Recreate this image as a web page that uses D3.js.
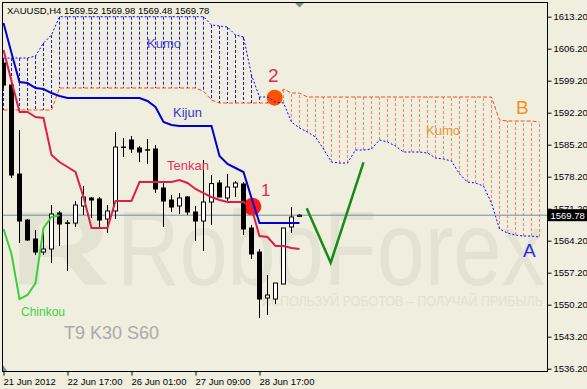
<!DOCTYPE html>
<html>
<head>
<meta charset="utf-8">
<script src="https://cdn.jsdelivr.net/npm/d3@7"></script>
<style>
html, body { margin: 0; padding: 0; background: #f0efdf; }
svg { display: block; font-family: "Liberation Sans", Arial, sans-serif; }
</style>
</head>
<body>
<svg id="chart" width="587" height="389"></svg>
<script>
// XAUUSD H4, bars from 21 Jun 2012 09:00 to 29 Jun 2012 13:00
let opens  = [1603.07, 1598.25, 1578.79, 1568.72, 1564.57, 1561.72, 1562.38, 1570.26, 1568.10, 1568.06,
              1571.79, 1573.54, 1573.32, 1568.94, 1570.70, 1584.60, 1586.23, 1584.48, 1584.04, 1584.26,
              1575.72, 1573.10, 1571.79, 1573.76, 1570.47, 1568.51, 1572.66, 1576.82, 1573.54, 1575.94,
              1576.60, 1566.98, 1561.72, 1551.66, 1551.44, 1554.72, 1567.20, 1569.52];
let highs  = [1603.90, 1598.90, 1588.41, 1568.94, 1566.54, 1566.10, 1572.01, 1570.70, 1568.70, 1572.88,
              1576.16, 1573.76, 1573.76, 1572.01, 1587.98, 1586.66, 1587.10, 1584.90, 1586.45, 1585.13,
              1576.82, 1574.19, 1574.63, 1573.98, 1571.79, 1581.85, 1578.57, 1577.48, 1578.79, 1577.26,
              1577.04, 1567.63, 1562.38, 1556.69, 1554.94, 1566.98, 1571.57, 1569.98];
let lows   = [1597.60, 1577.90, 1563.69, 1564.13, 1561.07, 1561.07, 1559.32, 1563.04, 1557.57, 1567.20,
              1569.82, 1569.16, 1567.20, 1565.88, 1568.94, 1582.51, 1583.38, 1581.41, 1580.98, 1574.63,
              1567.20, 1570.47, 1570.04, 1569.82, 1564.13, 1561.94, 1567.63, 1573.76, 1572.44, 1573.76,
              1565.44, 1560.19, 1547.28, 1547.94, 1550.35, 1554.72, 1565.88, 1569.48];
let closes = [1598.25, 1578.57, 1568.51, 1564.35, 1561.72, 1562.38, 1570.04, 1567.85, 1568.00, 1572.01,
              1573.76, 1573.10, 1568.72, 1570.70, 1584.69, 1584.69, 1584.26, 1583.60, 1584.10, 1575.51,
              1572.88, 1571.57, 1573.54, 1570.47, 1568.51, 1572.66, 1576.69, 1573.76, 1575.94, 1576.82,
              1566.76, 1561.29, 1551.44, 1552.32, 1554.94, 1566.98, 1569.38, 1569.78];

let tenkan = [1605.91, 1599.13, 1592.35, 1592.35, 1591.25, 1591.04, 1582.94, 1581.41, 1580.32, 1579.23,
              1573.76, 1566.97, 1566.97, 1566.97, 1572.88, 1572.88, 1572.88, 1577.04, 1577.04, 1577.04,
              1577.04, 1577.04, 1577.48, 1576.82, 1575.51, 1574.63, 1573.76, 1573.10, 1572.66, 1572.66,
              1572.66, 1571.35, 1565.22, 1565.00, 1563.04, 1563.04, 1562.60, 1562.38];
let kijun  = [1611.82, 1605.26, 1598.91, 1598.69, 1597.60, 1597.38, 1596.50, 1595.85, 1595.41, 1595.41,
              1595.41, 1595.41, 1595.41, 1595.41, 1595.41, 1595.41, 1595.41, 1595.41, 1594.76, 1593.44,
              1590.16, 1589.51, 1589.29, 1589.29, 1589.29, 1589.29, 1589.29, 1582.73, 1580.98, 1580.10,
              1579.23, 1573.54, 1568.07, 1568.07, 1568.07, 1568.07, 1568.07, 1568.07];
let chinkou = [1566.76, 1561.29, 1551.44, 1552.32, 1554.94, 1566.98, 1569.38, 1569.78];

let senkouA = [1604.16, 1604.16, 1604.16, 1604.16, 1604.60, 1607.45, 1609.20, 1613.20, 1613.20, 1613.20,
               1613.20, 1613.20, 1613.20, 1613.20, 1613.20, 1613.20, 1613.20, 1613.20, 1613.20, 1613.20,
               1613.20, 1613.20, 1613.20, 1613.20, 1613.20, 1613.20, 1611.38, 1611.17, 1610.95, 1609.20,
               1608.76, 1600.44, 1595.63, 1595.63, 1594.54, 1594.32, 1590.16, 1588.85, 1587.98, 1586.88,
               1584.26, 1581.41, 1581.19, 1581.19, 1584.04, 1584.04, 1584.26, 1586.23, 1585.79, 1584.91,
               1583.60, 1583.60, 1583.60, 1583.38, 1582.29, 1582.07, 1581.63, 1578.79, 1577.04, 1576.82,
               1576.16, 1572.44, 1566.76, 1565.88, 1565.44, 1565.22, 1565.22, 1565.00];
let senkouB = [1592.79, 1592.79, 1592.79, 1592.79, 1592.79, 1592.79, 1592.79, 1597.60, 1597.60, 1597.60,
               1597.60, 1597.60, 1597.60, 1597.60, 1597.60, 1597.60, 1597.60, 1597.60, 1597.60, 1597.60,
               1597.60, 1597.60, 1597.60, 1597.60, 1597.60, 1596.90, 1594.98, 1594.32, 1594.32, 1594.32,
               1594.32, 1594.32, 1594.32, 1594.32, 1594.32, 1597.38, 1596.50, 1596.50, 1595.63, 1595.63,
               1595.63, 1595.63, 1595.63, 1595.63, 1595.63, 1595.63, 1595.63, 1595.63, 1595.63, 1595.63,
               1595.63, 1595.63, 1595.63, 1595.63, 1595.63, 1595.63, 1595.63, 1595.63, 1595.63, 1595.63,
               1595.63, 1595.63, 1590.60, 1590.38, 1590.38, 1590.38, 1590.38, 1590.16];

let lastPrice = 1569.78;
let yTicks = [1613.2, 1606.2, 1599.2, 1592.2, 1585.2, 1578.2, 1571.2, 1564.2, 1557.2, 1550.2, 1543.2, 1536.2];
let xTickIdx = [0, 8, 16, 24, 32];
let xTickLabels = ['21 Jun 2012', '22 Jun 17:00', '26 Jun 01:00', '27 Jun 09:00', '28 Jun 17:00'];

// hand drawn forecast (bar index, price) and marked points
let forecastIdx = [37.9, 40.9, 45.0];
let forecastPrice = [1571.28, 1559.38, 1581.35];
let markIdx = [31.1, 33.9];
let markPrice = [1571.63, 1595.48];

const W = 587, H = 389;
const pL = 2.5, pR = 547.5, pT = 2.5, pB = 371.5;

let x = d3.scaleLinear().domain([0, 68]).range([3.5, 547.5]);
let y = d3.scaleLinear().domain([1536.2, 1613.2]).range([368.7, 16.7]);

let svg = d3.select('#chart');
svg.append('rect').attr('width', W).attr('height', H).attr('fill', '#f0efdf');

svg.append('defs').append('clipPath').attr('id', 'clip')
  .append('rect').attr('x', pL).attr('y', pT)
  .attr('width', pR - pL).attr('height', pB - pT);

let g = svg.append('g').attr('clip-path', 'url(#clip)');

// watermark
g.append('text').attr('x', 10).attr('y', 285)
  .attr('font-size', 105).attr('font-weight', 'bold')
  .attr('textLength', 100).attr('lengthAdjust', 'spacingAndGlyphs')
  .attr('fill', '#e3e3d4').text('R');
g.append('text').attr('x', 117).attr('y', 285)
  .attr('font-size', 105)
  .attr('textLength', 428).attr('lengthAdjust', 'spacingAndGlyphs')
  .attr('fill', '#e3e3d4').text('RoboForex');
g.append('text').attr('x', 262).attr('y', 306)
  .attr('font-size', 14)
  .attr('textLength', 281).attr('lengthAdjust', 'spacingAndGlyphs')
  .attr('fill', '#e1e1d2').text('ИСПОЛЬЗУЙ РОБОТОВ – ПОЛУЧАЙ ПРИБЫЛЬ');

// kumo hatching
g.selectAll('.hatch').data(d3.range(senkouA.length)).enter().append('line')
  .attr('class', 'hatch')
  .attr('x1', i => x(i)).attr('x2', i => x(i))
  .attr('y1', i => y(senkouA[i])).attr('y2', i => y(senkouB[i]))
  .attr('stroke', i => senkouA[i] >= senkouB[i] ? '#1a1ad0' : '#f2865e')
  .attr('stroke-width', 1)
  .attr('stroke-dasharray', '3,2');

// marked points sit under the lines
let markColor = ['#ff1818', '#ff5200'];
let markR = [9, 8];
g.selectAll('.mark').data(markIdx).enter().append('circle')
  .attr('cx', (d, i) => x(d)).attr('cy', (d, i) => y(markPrice[i]))
  .attr('r', (d, i) => markR[i]).attr('fill', (d, i) => markColor[i]);

let line = d3.line().x((d, i) => x(i)).y(d => y(d));

g.append('path').datum(senkouB).attr('d', line)
  .attr('fill', 'none').attr('stroke', '#ff4a10').attr('stroke-width', 1)
  .attr('stroke-dasharray', '4,2');
g.append('path').datum(senkouA).attr('d', line)
  .attr('fill', 'none').attr('stroke', '#0000ff').attr('stroke-width', 1)
  .attr('stroke-dasharray', '2,2');

// current price line
g.append('line').attr('x1', pL).attr('x2', pR)
  .attr('y1', y(lastPrice)).attr('y2', y(lastPrice))
  .attr('stroke', '#7a8899').attr('stroke-width', 1);

// candles
let candle = g.selectAll('.candle').data(d3.range(opens.length)).enter().append('g');
candle.append('line')
  .attr('x1', i => x(i)).attr('x2', i => x(i))
  .attr('y1', i => y(highs[i])).attr('y2', i => y(lows[i]))
  .attr('stroke', '#000').attr('stroke-width', 1);
candle.append('rect')
  .attr('x', i => x(i) - 2).attr('width', 4)
  .attr('y', i => y(Math.max(opens[i], closes[i])))
  .attr('height', i => Math.max(0.5, Math.abs(y(opens[i]) - y(closes[i]))))
  .attr('fill', i => closes[i] >= opens[i] ? '#fff' : '#000')
  .attr('stroke', '#000').attr('stroke-width', 1);

// ichimoku lines
g.append('path').datum(chinkou).attr('d', line)
  .attr('fill', 'none').attr('stroke', '#3ccf3c').attr('stroke-width', 2);
g.append('path').datum(tenkan).attr('d', line)
  .attr('fill', 'none').attr('stroke', '#dc1f48').attr('stroke-width', 2);
g.append('path').datum(kijun).attr('d', line)
  .attr('fill', 'none').attr('stroke', '#0000d0').attr('stroke-width', 2);

// forecast V
g.append('path').datum(forecastIdx)
  .attr('d', d3.line().x(d => x(d)).y((d, i) => y(forecastPrice[i])))
  .attr('fill', 'none').attr('stroke', '#178a17').attr('stroke-width', 2.5);

// labels
let labels = [
  {t: 'Kumo', x: 147, y: 48, s: 13, c: '#4a3fd4'},
  {t: 'Kijun', x: 173, y: 117, s: 13, c: '#3535cf'},
  {t: 'Tenkan', x: 167, y: 170, s: 13, c: '#e0305a'},
  {t: 'Chinkou', x: 21, y: 316, s: 12, c: '#3ed23e'},
  {t: 'T9 K30 S60', x: 64, y: 339, s: 18, c: '#a9a9a9'},
  {t: 'Kumo', x: 426, y: 135, s: 13, c: '#e8943a'},
  {t: 'B', x: 516, y: 114, s: 19, c: '#ff8c1a'},
  {t: 'A', x: 523, y: 257, s: 19, c: '#2a2ae0'},
  {t: '1', x: 261, y: 196, s: 17, c: '#e8274f'},
  {t: '2', x: 268, y: 82, s: 19, c: '#e02a50'}
];
g.selectAll('.lbl').data(labels).enter().append('text')
  .attr('x', d => d.x).attr('y', d => d.y)
  .attr('font-size', d => d.s).attr('fill', d => d.c)
  .text(d => d.t);

// title
svg.append('text').attr('x', 7).attr('y', 13.5).attr('font-size', 9.5).attr('fill', '#000')
  .text('XAUUSD,H4  1569.52 1569.98 1569.48 1569.78');

// chart shift marks
svg.append('path').attr('d', 'M' + (x(37) - 4.5) + ',3 h9 l-4.5,4.5 z').attr('fill', '#7b8a9b');
svg.append('path').attr('d', 'M3,365 l4,6 h-4 z').attr('fill', '#7b8a9b');

// border
svg.append('rect').attr('x', pL).attr('y', pT)
  .attr('width', pR - pL).attr('height', pB - pT)
  .attr('fill', 'none').attr('stroke', '#000').attr('stroke-width', 1);

// axes
let yAxis = svg.append('g').attr('transform', 'translate(' + pR + ',0)')
  .call(d3.axisRight(y).tickValues(yTicks).tickFormat(d3.format('.2f')).tickSize(4).tickPadding(2));
yAxis.select('.domain').remove();
yAxis.selectAll('text').attr('font-family', '"Liberation Sans", Arial, sans-serif').attr('font-size', 9.5).attr('fill', '#000');
yAxis.selectAll('line').attr('stroke', '#000');

let xAxis = svg.append('g').attr('transform', 'translate(0,' + pB + ')')
  .call(d3.axisBottom(x).tickValues(xTickIdx).tickFormat((d, i) => xTickLabels[i]).tickSize(4).tickPadding(3));
xAxis.select('.domain').remove();
xAxis.selectAll('text').attr('text-anchor', 'start').attr('x', -0.5)
  .attr('font-family', '"Liberation Sans", Arial, sans-serif').attr('font-size', 9.5).attr('fill', '#000');
xAxis.selectAll('line').attr('stroke', '#000');

// last price box
svg.append('rect').attr('x', pR + 0.5).attr('y', y(lastPrice) - 6).attr('width', 40).attr('height', 12).attr('fill', '#000');
svg.append('text').attr('x', pR + 3).attr('y', y(lastPrice)).attr('dy', '0.35em')
  .attr('font-size', 9.5).attr('fill', '#fff').text(d3.format('.2f')(lastPrice));
</script>
</body>
</html>
